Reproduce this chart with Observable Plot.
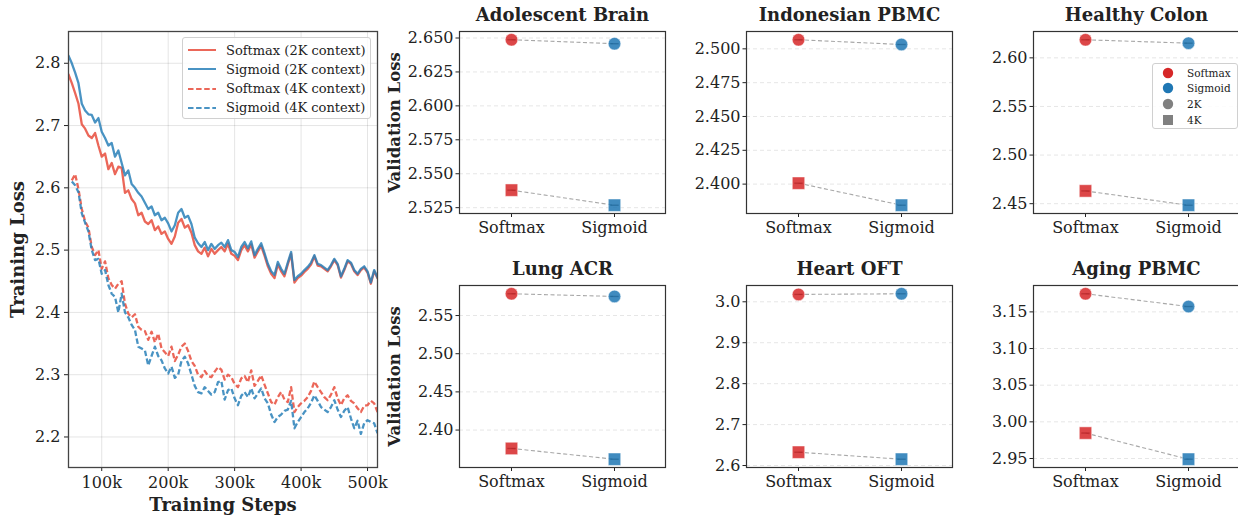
<!DOCTYPE html>
<html><head><meta charset="utf-8">
<script src="https://cdn.jsdelivr.net/npm/d3@7"></script>
<script src="https://cdn.jsdelivr.net/npm/@observablehq/plot@0.6"></script>
<style>
body{margin:0;background:#fff;}
#root{position:relative;width:1238px;height:519px;overflow:hidden;background:#fff;font-family:'DejaVu Serif',serif;color:#222;}
.panel{position:absolute;}
.panel svg{max-width:none !important;}
.legend{position:absolute;border:1px solid #d0d0d0;border-radius:3px;background:rgba(255,255,255,0.85);box-sizing:border-box;}
.legend .row{position:absolute;display:flex;align-items:center;white-space:nowrap;}
</style></head><body><div id="root"></div>
<script>
// ---------- Training loss data (steps in thousands) ----------
const stepsK = [50,55,60,65,70,75,80,85,90,95,100,105,110,115,120,125,130,135,140,145,150,155,160,165,170,175,180,185,190,195,200,205,210,215,220,225,230,235,240,245,250,255,260,265,270,275,280,285,290,295,300,305,310,315,320,325,330,335,340,345,350,355,360,365,370,375,380,385,390,395,400,405,410,415,420,425,430,435,440,445,450,455,460,465,470,475,480,485,490,495,500,505,510,515];
const stepsK4 = [55,60,65,70,75,80,85,90,95,100,105,110,115,120,125,130,135,140,145,150,155,160,165,170,175,180,185,190,195,200,205,210,215,220,225,230,235,240,245,250,255,260,265,270,275,280,285,290,295,300,305,310,315,320,325,330,335,340,345,350,355,360,365,370,375,380,385,390,395,400,405,410,415,420,425,430,435,440,445,450,455,460,465,470,475,480,485,490,495,500,505,510,515];
const softmax2kLoss = [2.782,2.768,2.752,2.735,2.702,2.695,2.684,2.680,2.688,2.668,
2.650,2.655,2.630,2.640,2.622,2.634,2.632,2.592,2.596,2.582,
2.575,2.556,2.560,2.546,2.542,2.548,2.532,2.538,2.526,2.530,
2.518,2.510,2.522,2.544,2.550,2.536,2.540,2.528,2.508,2.498,
2.494,2.504,2.490,2.502,2.494,2.500,2.505,2.498,2.510,2.494,
2.491,2.484,2.500,2.508,2.498,2.509,2.488,2.498,2.507,2.491,
2.474,2.462,2.455,2.477,2.466,2.458,2.477,2.494,2.448,2.455,
2.459,2.465,2.470,2.477,2.490,2.475,2.474,2.470,2.466,2.474,
2.484,2.476,2.456,2.468,2.482,2.478,2.466,2.460,2.468,2.472,
2.464,2.446,2.466,2.455];
const sigmoid2kLoss = [2.812,2.800,2.785,2.768,2.735,2.724,2.718,2.717,2.705,2.712,
2.690,2.680,2.668,2.672,2.650,2.660,2.640,2.620,2.628,2.606,
2.600,2.592,2.586,2.576,2.566,2.570,2.556,2.560,2.548,2.552,
2.543,2.530,2.540,2.560,2.566,2.552,2.555,2.542,2.520,2.511,
2.505,2.513,2.500,2.510,2.502,2.508,2.512,2.505,2.516,2.500,
2.497,2.489,2.505,2.513,2.503,2.514,2.492,2.502,2.511,2.495,
2.478,2.466,2.460,2.481,2.470,2.462,2.480,2.497,2.452,2.458,
2.462,2.468,2.473,2.480,2.492,2.478,2.476,2.472,2.468,2.476,
2.486,2.478,2.458,2.470,2.484,2.480,2.468,2.462,2.470,2.474,
2.466,2.448,2.468,2.456];
const softmax4kLoss = [2.612,2.622,2.598,2.566,2.546,2.536,2.505,2.492,2.500,
2.470,2.482,2.455,2.444,2.438,2.446,2.450,2.414,2.398,2.392,
2.397,2.377,2.372,2.370,2.356,2.369,2.352,2.366,2.342,2.336,
2.330,2.345,2.322,2.332,2.345,2.350,2.338,2.322,2.314,2.300,
2.296,2.306,2.298,2.296,2.305,2.312,2.308,2.292,2.300,2.296,
2.285,2.280,2.294,2.298,2.288,2.307,2.282,2.290,2.299,2.284,
2.270,2.256,2.252,2.264,2.272,2.260,2.256,2.280,2.240,2.248,
2.254,2.258,2.264,2.274,2.289,2.280,2.272,2.264,2.259,2.268,
2.280,2.262,2.251,2.262,2.267,2.258,2.254,2.246,2.240,2.250,
2.251,2.258,2.254,2.240];
const sigmoid4kLoss = [2.610,2.604,2.593,2.559,2.544,2.530,2.500,2.484,2.486,
2.462,2.468,2.444,2.430,2.425,2.400,2.430,2.400,2.392,2.380,
2.372,2.345,2.342,2.339,2.315,2.330,2.345,2.330,2.323,2.310,
2.302,2.313,2.295,2.300,2.322,2.329,2.318,2.300,2.282,2.272,
2.270,2.280,2.274,2.268,2.272,2.288,2.290,2.260,2.275,2.278,
2.262,2.251,2.266,2.272,2.264,2.278,2.262,2.270,2.278,2.262,
2.254,2.236,2.224,2.232,2.236,2.242,2.244,2.258,2.214,2.224,
2.232,2.240,2.246,2.255,2.267,2.258,2.248,2.244,2.240,2.248,
2.259,2.244,2.232,2.242,2.248,2.230,2.214,2.226,2.205,2.222,
2.227,2.224,2.222,2.206];
const lossXTicks = [100,200,300,400,500];
const lossYTicks = [2.2,2.3,2.4,2.5,2.6,2.7,2.8];
const lossLegend = ["Softmax (2K context)","Sigmoid (2K context)","Softmax (4K context)","Sigmoid (4K context)"];

// ---------- Validation loss data ----------
const datasets = ["Adolescent Brain","Indonesian PBMC","Healthy Colon","Lung ACR","Heart OFT","Aging PBMC"];
const methods = ["Softmax","Sigmoid"];
const softmax2kVal = [2.6487,2.5067,2.6186,2.5785,3.0180,3.1747];
const sigmoid2kVal = [2.6458,2.5032,2.6151,2.5750,3.0196,3.1573];
const softmax4kVal = [2.5379,2.4007,2.4631,2.3759,2.6325,2.9847];
const sigmoid4kVal = [2.5268,2.3844,2.4484,2.3618,2.6154,2.9490];
const valTicks = [[2.525,2.55,2.575,2.6,2.625,2.65],[2.4,2.425,2.45,2.475,2.5],[2.45,2.5,2.55,2.6],[2.4,2.45,2.5,2.55],[2.6,2.7,2.8,2.9,3.0],[2.95,3.0,3.05,3.1,3.15]];
const valTickFormats = [".3f",".3f",".2f",".2f",".1f",".2f"];
const valLegend = ["Softmax","Sigmoid","2K","4K"];

// ---------- styling ----------
const LINE_RED = "#E74C3C", LINE_BLUE = "#2980B9";
const DOT_RED = "#d62728", DOT_BLUE = "#1f77b4";
const DARK_RED = "#a51c1d", DARK_BLUE = "#185d8c";
const baseStyle = {fontFamily: "'DejaVu Serif', serif", fontSize: "16px", color: "#222", background: "transparent", overflow: "visible", maxWidth: "none"};
const root = document.getElementById("root");

function place(el, left, top, w) {
  const d = document.createElement("div");
  d.className = "panel"; d.style.left = left + "px"; d.style.top = top + "px"; d.style.width = w + "px";
  d.appendChild(el); root.appendChild(d);
}

// ---------- Left panel ----------
const lineSeries = [
  {vals: softmax2kLoss, steps: stepsK, color: LINE_RED, dash: null},
  {vals: sigmoid2kLoss, steps: stepsK, color: LINE_BLUE, dash: null},
  {vals: softmax4kLoss, steps: stepsK4, color: LINE_RED, dash: "5.5,2.6"},
  {vals: sigmoid4kLoss, steps: stepsK4, color: LINE_BLUE, dash: "5.5,2.6"}
];
const lossPlot = Plot.plot({
  width: 390, height: 519, marginLeft: 68, marginRight: 13, marginTop: 31, marginBottom: 52,
  style: baseStyle,
  x: {domain: [50, 515]},
  y: {domain: [2.151, 2.851]},
  marks: [
    Plot.gridX(lossXTicks, {stroke: "#000", strokeOpacity: 0.12, strokeWidth: 0.9}),
    Plot.gridY(lossYTicks, {stroke: "#000", strokeOpacity: 0.12, strokeWidth: 0.9}),
    ...lineSeries.map(s => Plot.line(s.vals, {x: (d, i) => s.steps[i], y: d => d, stroke: s.color, strokeWidth: 2.3, strokeOpacity: 0.85, strokeDasharray: s.dash, strokeLinecap: s.dash ? "butt" : "round", clip: true})),
    Plot.axisX(lossXTicks, {tickFormat: d => d + "k", tickSize: 4, tickPadding: 5, label: null}),
    Plot.axisY(lossYTicks, {tickFormat: ".1f", tickSize: 4, tickPadding: 4, label: null}),
    Plot.frame({stroke: "#444", strokeWidth: 1.3}),
    Plot.text(["Training Steps"], {text: d => d, frameAnchor: "bottom", dy: 38, lineAnchor: "middle", fontWeight: "bold", fontSize: 18}),
    Plot.text(["Training Loss"], {text: d => d, frameAnchor: "left", dx: -50, rotate: -90, textAnchor: "middle", lineAnchor: "middle", fontWeight: "bold", fontSize: 18})
  ]
});
place(lossPlot, 0, 0, 390);

// left legend (HTML)
(function () {
  const box = document.createElement("div");
  box.className = "legend";
  Object.assign(box.style, {left: "182px", top: "37px", width: "189px", height: "82px", fontSize: "13px"});
  lossLegend.forEach((lab, i) => {
    const s = lineSeries[i];
    const row = document.createElement("div");
    row.className = "row";
    Object.assign(row.style, {left: "5px", top: (3 + i * 19.3) + "px", height: "18px"});
    row.innerHTML = `<svg width="28" height="10" style="margin-right:10px"><line x1="0" x2="28" y1="5" y2="5" stroke="${s.color}" stroke-width="2" stroke-opacity="0.85" ${s.dash ? `stroke-dasharray="${s.dash}"` : ""}/></svg><span>${lab}</span>`;
    box.appendChild(row);
  });
  root.appendChild(box);
})();

// ---------- Validation panels ----------
const dashSymbol = {draw(context, size) { const r = Math.sqrt(size / Math.PI); context.moveTo(-r * 0.7, 0); context.lineTo(r * 0.7, 0); }};
const colLefts = [459, 746, 1033.3];
const rowTops = [31, 285];
const FW = 206, FH = 182;

datasets.forEach((name, i) => {
  const col = i % 3, row = Math.floor(i / 3);
  const pts = [
    {m: "Softmax", ctx: "2K", v: softmax2kVal[i]},
    {m: "Sigmoid", ctx: "2K", v: sigmoid2kVal[i]},
    {m: "Softmax", ctx: "4K", v: softmax4kVal[i]},
    {m: "Sigmoid", ctx: "4K", v: sigmoid4kVal[i]}
  ];
  const lo = d3.min(pts, d => d.v), hi = d3.max(pts, d => d.v), pad = (hi - lo) * 0.05;
  const sel = (m, c) => pts.filter(d => d.m === m && d.ctx === c);
  const dotOpts = {x: "m", y: "v", fillOpacity: 0.85, stroke: "white", strokeWidth: 0.6, strokeOpacity: 0.8};
  const marks = [
    Plot.gridY(valTicks[i], {stroke: "#000", strokeOpacity: 0.13, strokeDasharray: "4,3", strokeWidth: 0.8}),
    Plot.line(pts, {x: "m", y: "v", z: "ctx", stroke: "#999", strokeWidth: 1.1, strokeDasharray: "4,2.5", strokeLinecap: "butt", strokeOpacity: 0.85}),
    Plot.dot(sel("Softmax", "2K"), {...dotOpts, r: 6.3, symbol: "circle", fill: DOT_RED}),
    Plot.dot(sel("Sigmoid", "2K"), {...dotOpts, r: 6.3, symbol: "circle", fill: DOT_BLUE}),
    Plot.dot(sel("Softmax", "4K"), {...dotOpts, r: 7.0, symbol: "square", fill: DOT_RED}),
    Plot.dot(sel("Sigmoid", "4K"), {...dotOpts, r: 7.0, symbol: "square", fill: DOT_BLUE}),
    Plot.dot(pts.filter(d => d.m === "Softmax"), {x: "m", y: "v", r: 6, symbol: dashSymbol, stroke: DARK_RED, strokeWidth: 1.3, strokeOpacity: 0.55}),
    Plot.dot(pts.filter(d => d.m === "Sigmoid"), {x: "m", y: "v", r: 6, symbol: dashSymbol, stroke: DARK_BLUE, strokeWidth: 1.3, strokeOpacity: 0.55}),
    Plot.axisX(methods, {tickSize: 4, tickPadding: 4, label: null}),
    Plot.axisY(valTicks[i], {tickFormat: valTickFormats[i], tickSize: 3.5, tickPadding: 2.5, label: null}),
    Plot.frame({stroke: "#333", strokeWidth: 1.2}),
    Plot.text([name], {text: d => d, frameAnchor: "top", dy: -16, lineAnchor: "middle", fontWeight: "bold", fontSize: 18})
  ];
  if (col === 0) marks.push(Plot.text(["Validation Loss"], {text: d => d, frameAnchor: "left", dx: -65, rotate: -90, textAnchor: "middle", lineAnchor: "middle", fontWeight: "bold", fontSize: 16.5}));
  const W = 80 + FW + 6;
  const p = Plot.plot({
    width: W, height: 31 + FH + 37, marginLeft: 80, marginRight: 6, marginTop: 31, marginBottom: 37,
    style: baseStyle,
    x: {type: "point", domain: methods, padding: 0.5},
    y: {domain: [lo - pad, hi + pad]},
    marks
  });
  place(p, colLefts[col] - 80, rowTops[row] - 31, W);
});

// right legend (Healthy Colon panel)
(function () {
  const box = document.createElement("div");
  box.className = "legend";
  Object.assign(box.style, {left: "1152px", top: "63px", width: "86px", height: "66px", fontSize: "10.5px"});
  const sym = [
    `<circle cx="6" cy="6" r="5.2" fill="${DOT_RED}"/>`,
    `<circle cx="6" cy="6" r="5.2" fill="${DOT_BLUE}"/>`,
    `<circle cx="6" cy="6" r="5.2" fill="#808080"/>`,
    `<rect x="1" y="1" width="10" height="10" fill="#808080"/>`
  ];
  valLegend.forEach((lab, i) => {
    const row = document.createElement("div");
    row.className = "row";
    Object.assign(row.style, {left: "9px", top: (1 + i * 15.7) + "px", height: "15px"});
    row.innerHTML = `<svg width="12" height="12" style="margin-right:13px">${sym[i]}</svg><span>${lab}</span>`;
    box.appendChild(row);
  });
  root.appendChild(box);
})();
</script></body></html>
